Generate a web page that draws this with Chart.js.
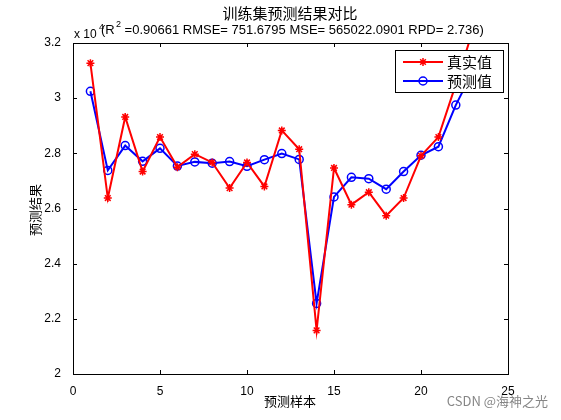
<!DOCTYPE html>
<html><head><meta charset="utf-8">
<script src="https://cdn.jsdelivr.net/npm/chart.js@4/dist/chart.umd.min.js"></script>
<style>html,body{margin:0;background:#fff}#w{width:561px;height:420px}</style>
</head><body><div id="w"><canvas id="c"></canvas></div>
<script>
const samples = [1,2,3,4,5,6,7,8,9,10,11,12,13,14,15,16,17,18,19,20,21,22,23];
const actual = [3.127,2.638,2.932,2.734,2.859,2.750,2.797,2.767,2.674,2.767,2.680,2.883,2.815,2.158,2.747,2.614,2.659,2.574,2.638,2.791,2.859,3.05,3.25];
const predicted = [3.025,2.738,2.828,2.771,2.818,2.754,2.769,2.764,2.770,2.753,2.777,2.799,2.778,2.256,2.642,2.713,2.708,2.670,2.734,2.793,2.824,2.975,3.10];
const yTicks = [2,2.2,2.4,2.6,2.8,3,3.2];
const xTicks = [0,5,10,15,20,25];
const F = '"Liberation Sans", Arial, sans-serif';
const CJK = '"Noto Sans CJK SC", sans-serif';
const deco = {
  id:'deco',
  afterDraw(ch){
    const c=ch.ctx, a=ch.chartArea, xs=ch.scales.x, ys=ch.scales.y;
    c.save();
    c.strokeStyle='#000'; c.lineWidth=1;
    c.strokeRect(Math.round(a.left)+0.5,Math.round(a.top)+0.5,Math.round(a.right-a.left),Math.round(a.bottom-a.top));
    c.beginPath();
    xTicks.forEach(t=>{const x=Math.round(xs.getPixelForValue(t))+0.5;c.moveTo(x,a.bottom);c.lineTo(x,a.bottom-4);c.moveTo(x,a.top);c.lineTo(x,a.top+4);});
    yTicks.forEach(t=>{const y=Math.round(ys.getPixelForValue(t))+0.5;c.moveTo(a.left,y);c.lineTo(a.left+4,y);c.moveTo(a.right,y);c.lineTo(a.right-4,y);});
    c.stroke();
    c.fillStyle='#000';
    c.font='15px '+CJK; c.textAlign='center'; c.textBaseline='middle';
    c.fillText('训练集预测结果对比',290,13);
    c.font='12px '+F; c.textAlign='left';
    c.fillText('x 10',74,35); c.font='9px '+F; c.fillText('4',99,28);
    c.font='13px '+F; c.fillText('(R',101,30); c.font='9px '+F; c.fillText('2',116,25);
    c.font='13px '+F; c.fillText(' =0.90661 RMSE= 751.6795 MSE= 565022.0901 RPD= 2.736)',121,30);
    c.font='13px '+CJK; c.textAlign='center';
    c.fillText('预测样本',290,401);
    c.save(); c.translate(35,210); c.rotate(-Math.PI/2); c.fillText('预测结果',0,0); c.restore();
    c.fillStyle='#fff'; c.fillRect(395,50,108,42); c.strokeRect(395.5,50.5,108,42);
    const items=[['真实值','#ff0000','star',62],['预测值','#0000ff','circle',81]];
    items.forEach(([t,col,ps,y])=>{
      c.strokeStyle=col; c.lineWidth=2; c.beginPath(); c.moveTo(403,y); c.lineTo(443,y); c.stroke();
      c.lineWidth=1.5; c.beginPath();
      if(ps==='circle'){c.arc(423,y,4,0,Math.PI*2);} else {for(let k=0;k<4;k++){const an=k*Math.PI/4;c.moveTo(423-4*Math.cos(an),y-4*Math.sin(an));c.lineTo(423+4*Math.cos(an),y+4*Math.sin(an));}}
      c.stroke();
      c.fillStyle='#000'; c.font='15px '+CJK; c.textAlign='left'; c.fillText(t,447,y);
    });
    c.fillStyle='rgba(120,120,120,0.9)'; c.font='13px '+CJK; c.textAlign='right';
    c.fillText('CSDN @海神之光',548,401);
    c.restore();
  }
};
new Chart(document.getElementById('c'),{
  type:'line',
  data:{datasets:[
    {data:samples.map((x,i)=>({x,y:actual[i]})),borderColor:'#ff0000',backgroundColor:'#ff0000',borderWidth:2,pointStyle:'star',pointRadius:4,pointBorderWidth:1.5,pointBorderColor:'#ff0000',tension:0,clip:0},
    {data:samples.map((x,i)=>({x,y:predicted[i]})),borderColor:'#0000ff',backgroundColor:'rgba(0,0,0,0)',borderWidth:2,pointStyle:'circle',pointRadius:4,pointBorderWidth:1.5,pointBorderColor:'#0000ff',tension:0,clip:0}
  ]},
  options:{
    responsive:true,maintainAspectRatio:false,animation:false,
    layout:{padding:{left:0,right:53,top:43,bottom:0}},
    plugins:{legend:{display:false},tooltip:{enabled:false}},
    scales:{
      x:{type:'linear',min:0,max:25,afterBuildTicks:s=>{s.ticks=xTicks.map(v=>({value:v}));},
        grid:{display:false},border:{display:false},
        ticks:{color:'#000',font:{size:12,family:F},padding:2,maxRotation:0,callback:v=>String(v)},
        afterFit:s=>{s.height=46;}},
      y:{min:2,max:3.2,afterBuildTicks:s=>{s.ticks=yTicks.map(v=>({value:v}));},
        grid:{display:false},border:{display:false},
        ticks:{color:'#000',font:{size:12,family:F},padding:4,callback:v=>String(+v.toFixed(1))},
        afterFit:s=>{s.width=73;}}
    }
  },
  plugins:[deco]
});
</script></body></html>
